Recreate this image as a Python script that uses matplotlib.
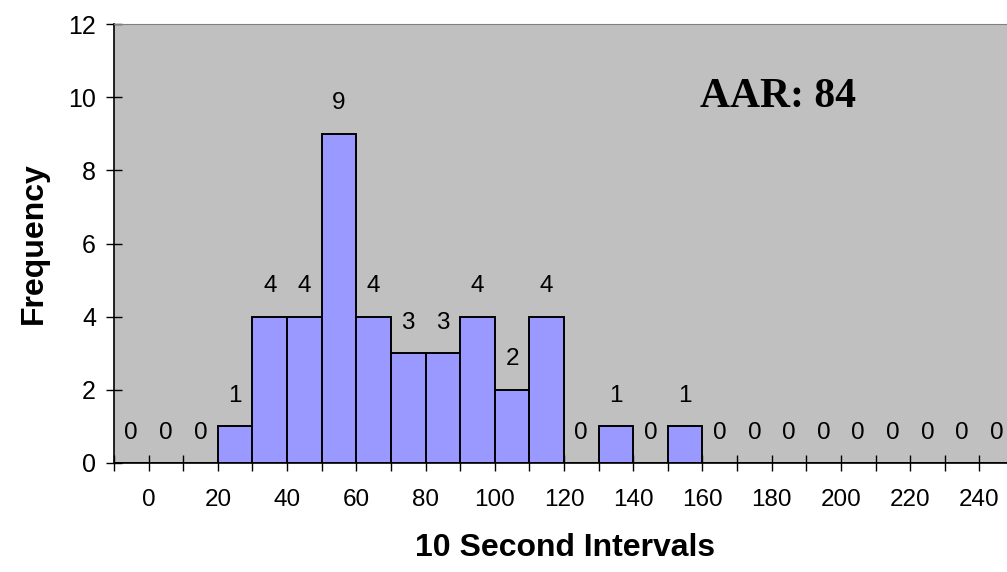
import matplotlib.pyplot as plt
import numpy as np

# histogram bins (left edge of each 10 s bin) and counts
bin_starts = [-10, 0, 10, 20, 30, 40, 50, 60, 70, 80, 90, 100, 110, 120,
              130, 140, 150, 160, 170, 180, 190, 200, 210, 220, 230, 240]
freq = [0, 0, 0, 1, 4, 4, 9, 4, 3, 3, 4, 2, 4, 0,
        1, 0, 1, 0, 0, 0, 0, 0, 0, 0, 0, 0]
tick_vals = list(range(0, 241, 20))
y_ticks = [0, 2, 4, 6, 8, 10, 12]
note = "AAR: 84"

plt.rcParams['font.family'] = ['Liberation Sans', 'DejaVu Sans']

fig = plt.figure(figsize=(10.07, 5.72), dpi=100)
ax = fig.add_axes([114 / 1007, 109 / 572, 900 / 1007, 439 / 572])
ax.set_facecolor('#C0C0C0')

ax.bar(bin_starts, freq, width=10, align='edge', color='#9999FF',
       edgecolor='black', linewidth=1.4, zorder=2)

for x, v in zip(bin_starts, freq):
    ax.annotate(str(v), (x + 5, v), xytext=(0, 14), textcoords='offset points',
                ha='center', va='bottom', fontsize=17.5)

ax.set_xlim(-10, 250)
ax.set_ylim(0, 12)
ax.set_yticks(y_ticks)
ax.set_xticks(tick_vals)
ax.set_xticks(bin_starts + [250], minor=True)
ax.tick_params(axis='x', which='both', direction='inout', length=12, width=1,
               labelsize=17.5, pad=13)
ax.tick_params(axis='y', direction='inout', length=12, width=1, labelsize=18, pad=7)

for s in ['top', 'right']:
    ax.spines[s].set_color('#808080')
ax.spines['left'].set_linewidth(1.2)
ax.spines['bottom'].set_linewidth(1.2)

ax.set_ylabel('Frequency', fontsize=23, fontweight='bold', labelpad=14)
fig.text(565 / 1007, 1 - 556 / 572, '10 Second Intervals', ha='center',
         va='baseline', fontsize=23, fontweight='bold')

ax.text(700 / 1007, 1 - 107 / 572, note, transform=fig.transFigure,
        family='Liberation Serif', fontweight='bold', fontsize=30, va='baseline')

fig.savefig('out.png', dpi=100)
